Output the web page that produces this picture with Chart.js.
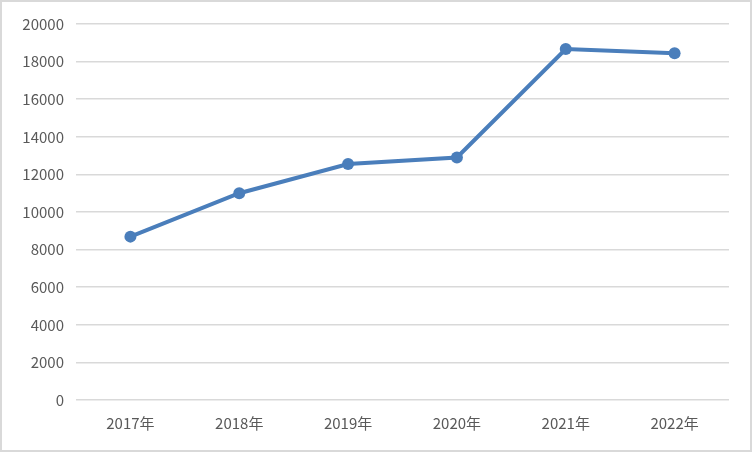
<!DOCTYPE html>
<html>
<head>
<meta charset="utf-8">
<script src="https://cdn.jsdelivr.net/npm/chart.js@4/dist/chart.umd.min.js"></script>
<style>
	html, body { margin: 0; padding: 0; background: #fff; }
	#wrap {
		width: 752px; height: 452px; box-sizing: border-box;
		border: 2px solid #d9d9d9; background: #fff; position: relative;
	}
	#chart { display: block; }
</style>
</head>
<body>
<div id="wrap"><canvas id="chart" width="748" height="448"></canvas></div>
<script>
(function () {
	'use strict';

	/* ---------- Data ---------- */

	var years = ['2017年', '2018年', '2019年', '2020年', '2021年', '2022年'];
	var values = [8690, 11000, 12550, 12900, 18670, 18440];
	var yTicks = [0, 2000, 4000, 6000, 8000, 10000, 12000, 14000, 16000, 18000, 20000];

	var LINE_COLOR = '#4a7ebb';
	var TEXT_COLOR = '#595959';
	var GRID_COLOR = '#d9d9d9';
	var FONT = '"Noto Sans CJK SC", "Noto Sans", sans-serif';

	/* ---------- Chart ---------- */

	var ctx = document.getElementById('chart');

	new Chart(ctx, {
		type: 'line',
		data: {
			labels: years,
			datasets: [{
				data: values,
				borderColor: LINE_COLOR,
				backgroundColor: LINE_COLOR,
				borderWidth: 4,
				pointRadius: 6,
				pointBorderWidth: 0,
				pointBackgroundColor: LINE_COLOR,
				tension: 0,
				fill: false,
			}],
		},
		options: {
			responsive: false,
			animation: false,
			layout: { padding: { top: 22, right: 21, bottom: 0, left: 0 } },
			plugins: {
				legend: { display: false },
				tooltip: { enabled: false },
			},
			scales: {
				x: {
					offset: true,
					grid: { display: false, drawTicks: false },
					border: { display: false },
					ticks: {
						color: TEXT_COLOR,
						font: { family: FONT, size: 15 },
						padding: 14,
						maxRotation: 0,
					},
					afterFit: function (scale) { scale.height = 50; },
				},
				y: {
					min: 0,
					max: 20000,
					afterBuildTicks: function (scale) {
						scale.ticks = yTicks.map(function (v) { return { value: v }; });
					},
					grid: { color: GRID_COLOR, lineWidth: 1.5, drawTicks: false },
					border: { display: false },
					ticks: {
						color: TEXT_COLOR,
						font: { family: FONT, size: 15 },
						padding: 12,
						callback: function (v) { return String(v); },
					},
					afterFit: function (scale) { scale.width = 74; },
				},
			},
		},
	});
})();
</script>
</body>
</html>
